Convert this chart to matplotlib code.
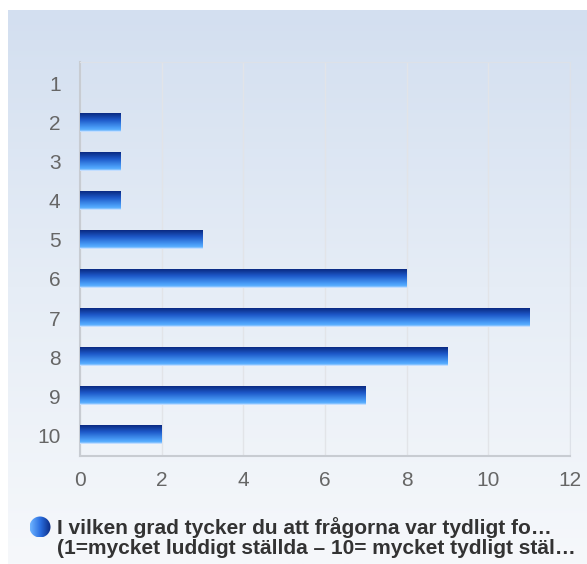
import numpy as np
import matplotlib
matplotlib.use('Agg')
import matplotlib.pyplot as plt
from matplotlib.colors import LinearSegmentedColormap
from matplotlib.patches import Circle

plt.rcParams['font.family'] = ['Liberation Sans', 'DejaVu Sans']

categories = ['1', '2', '3', '4', '5', '6', '7', '8', '9', '10']
counts = [0, 1, 1, 1, 3, 8, 11, 9, 7, 2]
x_ticks = [0, 2, 4, 6, 8, 10, 12]
legend_label = ('I vilken grad tycker du att frågorna var tydligt fo…\n'
                '(1=mycket luddigt ställda – 10= mycket tydligt stäl…')

W, H, DPI = 587, 564, 100
fig = plt.figure(figsize=(W / DPI, H / DPI), dpi=DPI)
fig.patch.set_facecolor('white')

# panel background gradient
bg = fig.add_axes((8 / W, 0, 1 - 8 / W, 1 - 10 / H), zorder=0)
bg_cmap = LinearSegmentedColormap.from_list('bg', ['#d3dff0', '#e6edf6', '#f6f8fb'])
bg.imshow(np.linspace(0, 1, 256).reshape(-1, 1), cmap=bg_cmap, aspect='auto',
          extent=(0, 1, 0, 1), origin='upper')
bg.axis('off')

ax = fig.add_axes((80 / W, 108 / H, 490 / W, 394 / H), zorder=1)
ax.set_facecolor('none')

bar_cmap = LinearSegmentedColormap.from_list(
    'bar', [(0.0, '#0a2a82'), (0.35, '#1d58c8'), (0.78, '#4a9ef8'),
            (0.9, '#5cb0ff'), (1.0, '#dce9ff')])
grad = np.linspace(0, 1, 64).reshape(-1, 1)
ypos = np.arange(1, len(categories) + 1)
h = 0.47
for y, v in zip(ypos, counts):
    if v <= 0:
        continue
    ax.imshow(grad, cmap=bar_cmap, aspect='auto', origin='upper',
              extent=(0, v, y + h / 2, y - h / 2), zorder=3, interpolation='bilinear')

ax.set_xlim(0, 12)
ax.set_ylim(10.53, 0.45)
ax.set_xticks(x_ticks)
ax.set_yticks(ypos)
ax.set_yticklabels(categories)
ax.tick_params(length=0, labelsize=15, colors='#666666')
ax.tick_params(axis='x', pad=11)
ax.tick_params(axis='y', pad=14)
ax.grid(axis='x', color='#e2e4e8', linewidth=1, zorder=1)
for side in ['top', 'right']:
    ax.spines[side].set_color('#dde1e8')
for side in ['left', 'bottom']:
    ax.spines[side].set_color('#c8ccd2')
    ax.spines[side].set_linewidth(1.5)

# legend
lg = fig.add_axes((0, 0, 1, 1), zorder=2)
lg.set_xlim(0, W)
lg.set_ylim(H, 0)
lg.axis('off')
cx, cy, r = 40, 527, 10.5
dot_cmap = LinearSegmentedColormap.from_list('dot', ['#6fb4ff', '#2a6ee0', '#0a2a82'])
im = lg.imshow(np.linspace(0, 1, 64).reshape(1, -1), cmap=dot_cmap, aspect='auto',
               extent=(cx - r, cx + r, cy + r, cy - r), interpolation='bilinear')
im.set_clip_path(Circle((cx, cy), r, transform=lg.transData))
lg.set_xlim(0, W)
lg.set_ylim(H, 0)
lg.text(57, 517, legend_label, fontsize=15, fontweight='bold', color='#333333',
        va='top', ha='left', linespacing=1.05)

fig.savefig('out.png', dpi=DPI)
